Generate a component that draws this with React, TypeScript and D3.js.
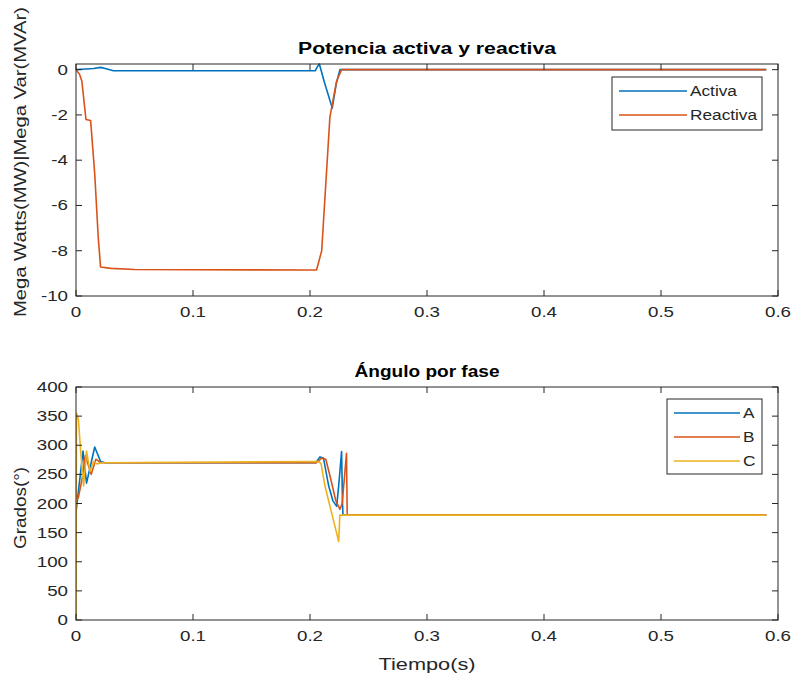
import React from 'react'
import * as d3 from 'd3'

// top chart: potencia [t (s), value]
const activa: [number, number][] = [
  [0, 0], [0.005, 0.02], [0.015, 0.05], [0.021, 0.1], [0.025, 0.05], [0.032, -0.05],
  [0.2045, -0.05], [0.206, 0.1], [0.208, 0.25], [0.212, -0.5], [0.219, -1.7],
  [0.2225, -0.6], [0.2256, 0], [0.59, 0]
]
const reactiva: [number, number][] = [
  [0, 0], [0.003, -0.2], [0.005, -0.5], [0.0085, -2.2], [0.0125, -2.25], [0.016, -4.6],
  [0.019, -7.4], [0.021, -8.72], [0.03, -8.78], [0.05, -8.83], [0.2, -8.85],
  [0.2056, -8.85], [0.21, -8.0], [0.217, -2.1], [0.2228, -0.5], [0.227, 0], [0.59, 0]
]

// bottom chart: angulo por fase
const faseA: [number, number][] = [
  [0, 185], [0.006, 290], [0.009, 235], [0.016, 297], [0.021, 272], [0.025, 270],
  [0.205, 270], [0.2085, 280], [0.2115, 278], [0.216, 230], [0.2195, 205], [0.2228, 195],
  [0.2245, 230], [0.227, 289], [0.2278, 200], [0.2282, 180], [0.59, 180]
]
const faseB: [number, number][] = [
  [0, 205], [0.002, 210], [0.005, 240], [0.008, 282], [0.013, 250], [0.017, 276],
  [0.021, 270], [0.2056, 270], [0.21, 278], [0.2135, 276], [0.218, 240], [0.222, 205],
  [0.2256, 190], [0.2275, 200], [0.2312, 286], [0.2318, 182], [0.232, 180], [0.59, 180]
]
const faseC: [number, number][] = [
  [0, 0], [0.0004, 355], [0.002, 345], [0.004, 290], [0.0065, 230], [0.009, 290],
  [0.012, 255], [0.015, 272], [0.018, 268], [0.022, 270], [0.2075, 272], [0.2095, 268],
  [0.2128, 230], [0.2245, 135], [0.2255, 180], [0.59, 180]
]

const xTicks = [0, 0.1, 0.2, 0.3, 0.4, 0.5, 0.6]
const topYTicks = [0, -2, -4, -6, -8, -10]
const botYTicks = [0, 50, 100, 150, 200, 250, 300, 350, 400]

const colors = ['#0072BD', '#D95319', '#EDB120']
const font = 'Liberation Sans, Arial, Helvetica, sans-serif'
const textColor = '#262626'
const stretch = 1.25

type Series = { name: string; data: [number, number][]; color: string }

function Axes(props: {
  top: number; bottom: number; left: number; right: number
  yDomain: [number, number]; yTicks: number[]; title: string; titleLen: number
  ylabel: string; ylabelLen: number; ylabelX: number; ylabelY: number
  series: Series[]; legend: { x: number; y: number; w: number; h: number; lineW: number }
}) {
  const { top, bottom, left, right, yDomain, yTicks, title, ylabel, series, legend } = props
  const x = d3.scaleLinear().domain([0, 0.6]).range([left, right])
  const y = d3.scaleLinear().domain(yDomain).range([bottom, top])
  const line = d3.line<[number, number]>().x(d => x(d[0])).y(d => y(d[1]))
  const tl = 6
  const clipId = 'clip' + top
  return (
    <g fontFamily={font} fill={textColor}>
      <clipPath id={clipId}>
        <rect x={left} y={top - 3} width={right - left} height={bottom - top + 3} />
      </clipPath>
      <rect x={left} y={top} width={right - left} height={bottom - top} fill="#fff" />
      <g clipPath={`url(#${clipId})`}>
        {series.map(s => (
          <path key={s.name} d={line(s.data) || ''} fill="none" stroke={s.color} strokeWidth={1.6} strokeLinejoin="round" />
        ))}
      </g>
      <rect x={left} y={top} width={right - left} height={bottom - top} fill="none" stroke={textColor} strokeWidth={1} />
      {xTicks.map(t => (
        <g key={'x' + t}>
          <line x1={x(t)} x2={x(t)} y1={bottom} y2={bottom - tl} stroke={textColor} />
          <line x1={x(t)} x2={x(t)} y1={top} y2={top + tl} stroke={textColor} />
          <text transform={`translate(${x(t)},${bottom + 21}) scale(${stretch},1)`} textAnchor="middle" fontSize={15}>{String(t)}</text>
        </g>
      ))}
      {yTicks.map(t => (
        <g key={'y' + t}>
          <line x1={left} x2={left + tl} y1={y(t)} y2={y(t)} stroke={textColor} />
          <line x1={right} x2={right - tl} y1={y(t)} y2={y(t)} stroke={textColor} />
          <text transform={`translate(${left - 8},${y(t) + 5}) scale(${stretch},1)`} textAnchor="end" fontSize={15}>{String(t)}</text>
        </g>
      ))}
      <text x={(left + right) / 2} y={top - 10} textAnchor="middle" fontSize={16} fontWeight="bold" fill="#000"
        textLength={props.titleLen} lengthAdjust="spacingAndGlyphs">{title}</text>
      <text transform={`translate(${props.ylabelX},${props.ylabelY}) rotate(-90)`} textAnchor="middle" fontSize={16}
        textLength={props.ylabelLen} lengthAdjust="spacingAndGlyphs">{ylabel}</text>
      <g>
        <rect x={legend.x} y={legend.y} width={legend.w} height={legend.h} fill="#fff" stroke={textColor} strokeWidth={1} />
        {series.map((s, i) => {
          const ly = legend.y + 14 + i * 24
          return (
            <g key={'l' + s.name}>
              <line x1={legend.x + 7} x2={legend.x + 7 + legend.lineW} y1={ly} y2={ly} stroke={s.color} strokeWidth={1.6} />
              <text transform={`translate(${legend.x + 10 + legend.lineW},${ly + 5}) scale(1.15,1)`} fontSize={15}>{s.name}</text>
            </g>
          )
        })}
      </g>
    </g>
  )
}

export default function App() {
  return (
    <svg width={797} height={679} style={{ display: 'block', position: 'absolute', left: 0, top: 0 }}>
      <rect width={797} height={679} fill="#fff" />
      <Axes
        top={64} bottom={296} left={76} right={778}
        yDomain={[-10, 0.25]} yTicks={topYTicks}
        title="Potencia activa y reactiva" titleLen={258}
        ylabel="Mega Watts(MW)|Mega Var(MVAr)" ylabelLen={310} ylabelX={26} ylabelY={162}
        series={[
          { name: 'Activa', data: activa, color: colors[0] },
          { name: 'Reactiva', data: reactiva, color: colors[1] }
        ]}
        legend={{ x: 612, y: 77, w: 150, h: 53, lineW: 68 }}
      />
      <Axes
        top={387} bottom={620} left={76} right={778}
        yDomain={[0, 400]} yTicks={botYTicks}
        title="Ángulo por fase" titleLen={145}
        ylabel="Grados(°)" ylabelLen={82} ylabelX={26} ylabelY={508}
        series={[
          { name: 'A', data: faseA, color: colors[0] },
          { name: 'B', data: faseB, color: colors[1] },
          { name: 'C', data: faseC, color: colors[2] }
        ]}
        legend={{ x: 667, y: 399, w: 95, h: 75, lineW: 66 }}
      />
      <text x={427} y={670} textAnchor="middle" fontSize={16} fontFamily={font} fill={textColor}
        textLength={97} lengthAdjust="spacingAndGlyphs">Tiempo(s)</text>
    </svg>
  )
}
